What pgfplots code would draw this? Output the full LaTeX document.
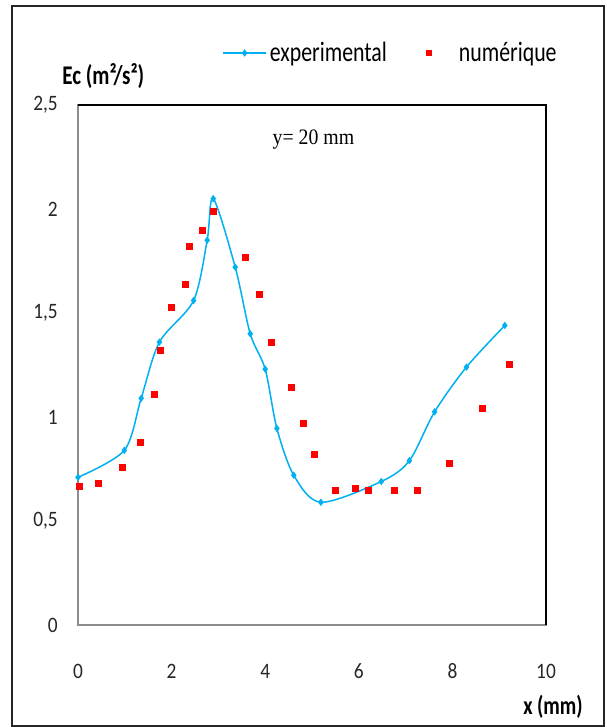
\documentclass[border=0pt]{standalone}
\usepackage{fontspec}
\setmainfont{Carlito}
\newfontfamily\tickfont[FakeStretch=0.88]{Carlito}
\newfontfamily\legfont[FakeStretch=0.78]{Carlito}
\newfontfamily\titfont[FakeStretch=0.9]{Liberation Serif}
\usepackage{pgfplots}
\pgfplotsset{compat=1.18}
\definecolor{expblue}{RGB}{0,176,240}
\definecolor{axgray}{RGB}{140,140,140}
\pgfplotsset{
  explegend/.style={legend image code/.code={\draw[mark repeat=2, mark phase=2, ##1] plot coordinates {(0pt,0pt) (21.5pt,0pt) (43pt,0pt)};}},
  numlegend/.style={legend image code/.code={\path[draw=none, fill=none] (0pt,-0.1pt) rectangle (35pt,0.1pt); \path[##1, draw=none, mark size=2.3pt] plot[only marks] coordinates {(8pt,0pt)};}},
}
\begin{document}
\begin{tikzpicture}
\begin{axis}[
  scale only axis, width=468pt, height=520pt,
  xmin=0, xmax=10, ymin=0, ymax=2.5,
  /pgf/number format/assume math mode=true,
  xtick={0,2,4,6,8,10},
  xticklabels={0,2,4,6,8,10},
  ytick={0,0.5,1,1.5,2,2.5},
  yticklabels={0,{0,5},1,{1,5},2,{2,5}},
  major tick length=0pt,
  axis line style={axgray, line width=1.1pt},
  clip=false,
  xticklabel style={font=\tickfont\fontsize{22}{24}\selectfont, anchor=center, yshift=-46pt, text=black!85},
  yticklabel style={font=\tickfont\fontsize{22}{24}\selectfont, anchor=east, inner sep=0pt, xshift=-20pt, text=black!85},
  xlabel={x (mm)},
  xlabel style={font=\legfont\bfseries\fontsize{26}{28}\selectfont, at={(rel axis cs:1.015,-0.158)}, anchor=center, inner sep=0pt},
  ylabel={Ec (m²/s²)},
  ylabel style={font=\legfont\bfseries\fontsize{27}{29}\selectfont, rotate=-90, at={(rel axis cs:-0.034,1.056)}, anchor=west, inner sep=0pt},
  legend columns=2,
  legend style={draw=none, fill=none, at={(0.308,1.1)}, anchor=west, inner sep=0pt,
    font=\legfont\fontsize{28}{30}\selectfont,
    nodes={inner xsep=3pt, inner ysep=0pt},
    /tikz/every even column/.append style={column sep=31pt}},
]
\addplot[expblue, line width=1.5pt, smooth, tension=0.5, mark=diamond*, mark size=2.5pt, explegend]
  coordinates {
  (0,0.71) (0.99,0.84) (1.35,1.09) (1.74,1.36) (2.47,1.56) (2.76,1.85) (2.89,2.05)
  (3.36,1.72) (3.68,1.40) (4.00,1.23) (4.25,0.945) (4.61,0.72) (5.19,0.59)
  (6.48,0.69) (7.08,0.79) (7.62,1.025) (8.30,1.24) (9.12,1.44)
  };
\addlegendentry{experimental}
\addplot[only marks, mark=square*, mark size=3pt, color=red, numlegend]
  coordinates {
  (0.03,0.665) (0.43,0.68) (0.95,0.76) (1.33,0.88) (1.62,1.11) (1.76,1.32) (2.00,1.53)
  (2.30,1.64) (2.37,1.82) (2.66,1.90) (2.88,1.99) (3.58,1.77) (3.87,1.59) (4.13,1.36)
  (4.56,1.145) (4.81,0.97) (5.05,0.82) (5.50,0.65) (5.92,0.66) (6.20,0.65) (6.76,0.65)
  (7.24,0.65) (7.93,0.78) (8.64,1.04) (9.21,1.255)
  };
\addlegendentry{numérique}
\draw[black, line width=1.2pt] (rel axis cs:0,1) -- (rel axis cs:1,1) -- (rel axis cs:1,0);
\node[font=\titfont\fontsize{22}{24}\selectfont, inner sep=0pt] at (axis cs:5.03,2.336) {y= 20 mm};
\coordinate (SW) at (rel axis cs:0,0);
\coordinate (NE) at (rel axis cs:1,1);
\end{axis}
\draw[line width=1.5pt, black!85] ([shift={(-66pt,-101pt)}]SW) rectangle ([shift={(58pt,99pt)}]NE);
\pgfresetboundingbox
\path ([shift={(-78pt,-102pt)}]SW) rectangle ([shift={(60pt,105pt)}]NE);
\end{tikzpicture}
\end{document}
